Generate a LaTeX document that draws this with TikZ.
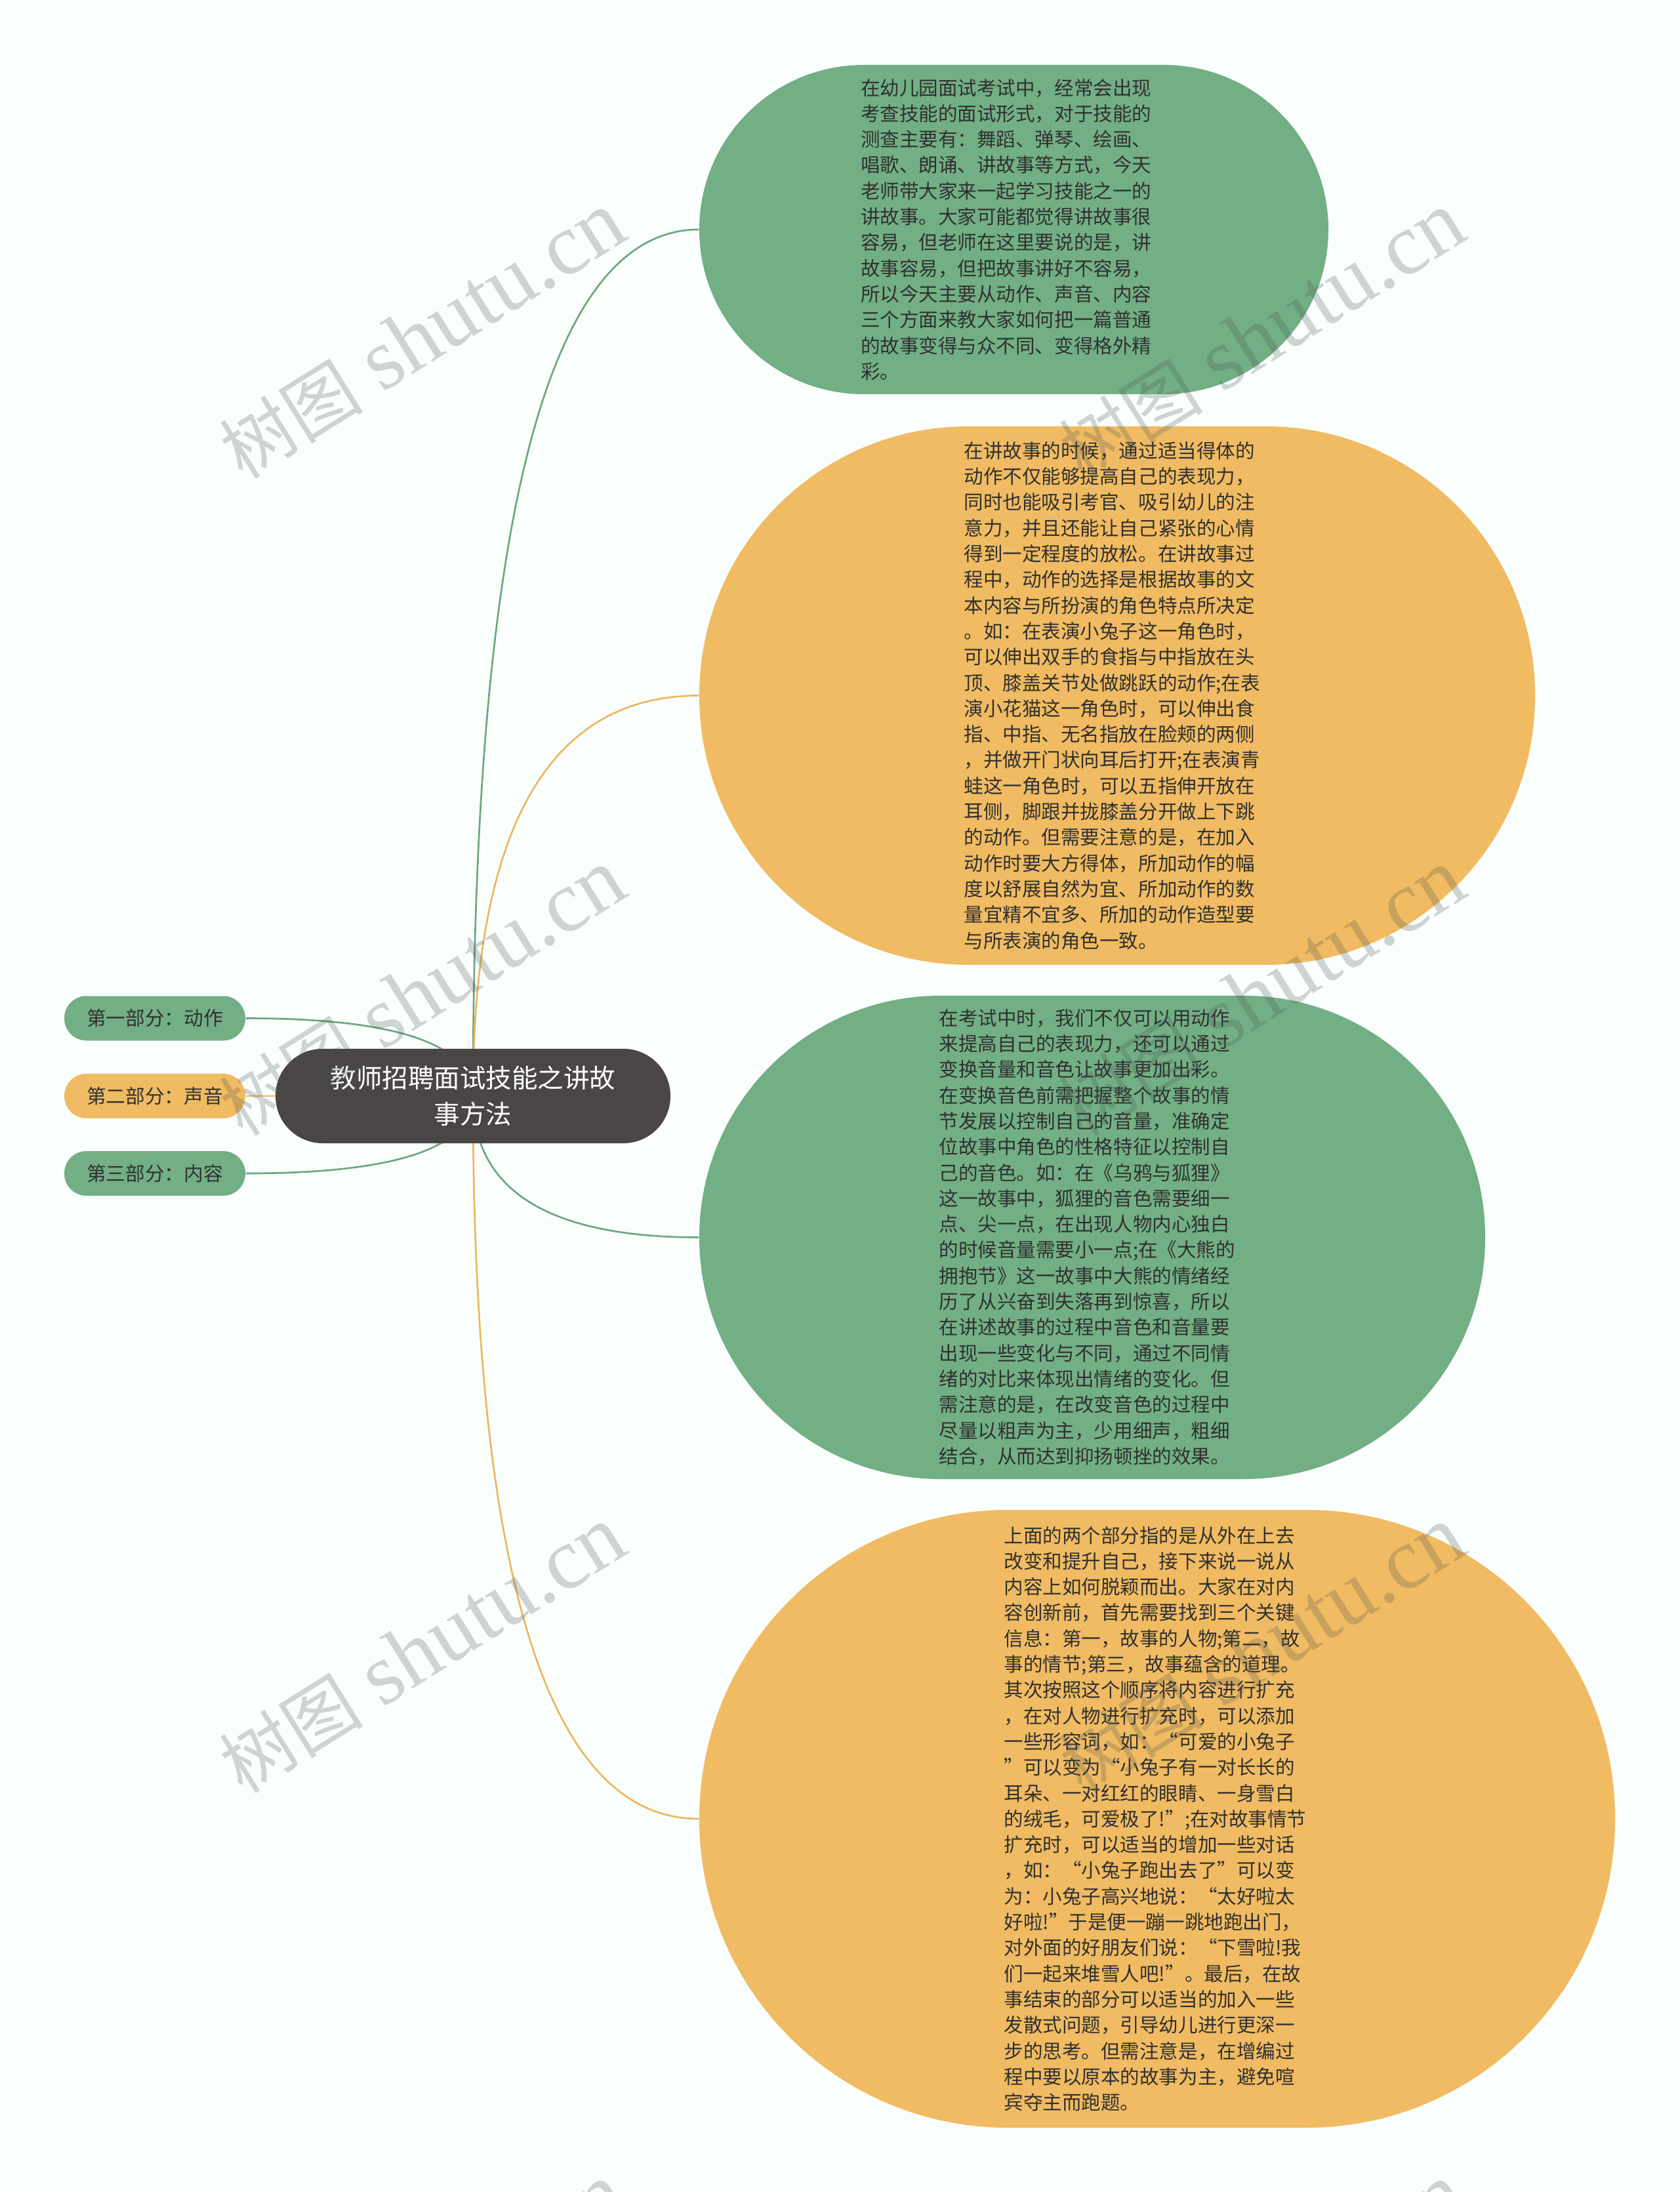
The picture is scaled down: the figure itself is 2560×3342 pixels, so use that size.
\documentclass[tikz,border=0pt]{standalone}
\usepackage{fontspec}
\newfontfamily\cjk{Noto Sans CJK SC}
\newfontfamily\wmserif{Liberation Serif}
\usetikzlibrary{calc}
\pgfdeclarelayer{bg}
\pgfsetlayers{bg,main}
\definecolor{bgcol}{RGB}{250,254,253}
\definecolor{gcol}{RGB}{114,175,132}
\definecolor{ocol}{RGB}{240,187,98}
\definecolor{rcol}{RGB}{75,70,70}
\definecolor{glcol}{RGB}{106,168,125}
\definecolor{olcol}{RGB}{236,183,92}
\definecolor{txtcol}{RGB}{48,48,48}
\definecolor{wmcol}{RGB}{70,80,80}
\newcommand\myqo{\makebox[1em][r]{“}}
\newcommand\myqc{\makebox[1em][l]{”}}
\tikzset{
  bignode/.style={rectangle, inner sep=0pt, text width=140pt, align=left, text=txtcol,
    font={\cjk\fontsize{8.86}{11.79}\selectfont}},
  gfill/.style={fill=gcol},
  ofill/.style={fill=ocol},
  smallnode/.style={rectangle, inner sep=0pt, minimum width=82.8pt, minimum height=20.4pt,
    rounded corners=10.1pt, text=txtcol, font={\cjk\fontsize{8.9}{10}\selectfont}},
  rootnode/.style={rectangle, inner sep=0pt, minimum width=180.6pt, minimum height=43.2pt,
    rounded corners=21.5pt, fill=rcol, text=white, align=center,
    font={\cjk\fontsize{11.85}{16.5}\selectfont}},
  gline/.style={draw=glcol, line width=0.8pt},
  oline/.style={draw=olcol, line width=0.8pt},
  wm/.style={rotate=32, text=wmcol, text opacity=0.24, inner sep=0pt}
}
\begin{document}
\begin{tikzpicture}[x=0.3pt,y=-0.3pt]
\useasboundingbox (0,0) rectangle (2560,3342);

% root
\node[rootnode] (root) at (721,1671) {教师招聘面试技能之讲故\\事方法};

% left nodes
\node[smallnode, gfill] (l1) at (236,1552.5) {第一部分：动作};
\node[smallnode, ofill] (l2) at (236,1671) {第二部分：声音};
\node[smallnode, gfill] (l3) at (236,1789) {第三部分：内容};

% big nodes
\node[bignode, gfill, minimum width=287.7pt, minimum height=150.6pt, rounded corners=75.2pt] (n1) at (1545.5,350) {%
在幼儿园面试考试中，经常会出现\\
考查技能的面试形式，对于技能的\\
测查主要有：舞蹈、弹琴、绘画、\\
唱歌、朗诵、讲故事等方式，今天\\
老师带大家来一起学习技能之一的\\
讲故事。大家可能都觉得讲故事很\\
容易，但老师在这里要说的是，讲\\
故事容易，但把故事讲好不容易，\\
所以今天主要从动作、声音、内容\\
三个方面来教大家如何把一篇普通\\
的故事变得与众不同、变得格外精\\
彩。};

\node[bignode, ofill, minimum width=382.2pt, minimum height=246.3pt, rounded corners=123pt] (n2) at (1703,1060.5) {%
在讲故事的时候，通过适当得体的\\
动作不仅能够提高自己的表现力，\\
同时也能吸引考官、吸引幼儿的注\\
意力，并且还能让自己紧张的心情\\
得到一定程度的放松。在讲故事过\\
程中，动作的选择是根据故事的文\\
本内容与所扮演的角色特点所决定\\
。如：在表演小兔子这一角色时，\\
可以伸出双手的食指与中指放在头\\
顶、膝盖关节处做跳跃的动作;在表\\
演小花猫这一角色时，可以伸出食\\
指、中指、无名指放在脸颊的两侧\\
，并做开门状向耳后打开;在表演青\\
蛙这一角色时，可以五指伸开放在\\
耳侧，脚跟并拢膝盖分开做上下跳\\
的动作。但需要注意的是，在加入\\
动作时要大方得体，所加动作的幅\\
度以舒展自然为宜、所加动作的数\\
量宜精不宜多、所加的动作造型要\\
与所表演的角色一致。};

\node[bignode, gfill, minimum width=359.4pt, minimum height=221.1pt, rounded corners=110.4pt] (n3) at (1665,1886.5) {%
在考试中时，我们不仅可以用动作\\
来提高自己的表现力，还可以通过\\
变换音量和音色让故事更加出彩。\\
在变换音色前需把握整个故事的情\\
节发展以控制自己的音量，准确定\\
位故事中角色的性格特征以控制自\\
己的音色。如：在《乌鸦与狐狸》\\
这一故事中，狐狸的音色需要细一\\
点、尖一点，在出现人物内心独白\\
的时候音量需要小一点;在《大熊的\\
拥抱节》这一故事中大熊的情绪经\\
历了从兴奋到失落再到惊喜，所以\\
在讲述故事的过程中音色和音量要\\
出现一些变化与不同，通过不同情\\
绪的对比来体现出情绪的变化。但\\
需注意的是，在改变音色的过程中\\
尽量以粗声为主，少用细声，粗细\\
结合，从而达到抑扬顿挫的效果。};

\node[bignode, ofill, minimum width=418.8pt, minimum height=282.6pt, rounded corners=141.2pt] (n4) at (1764,2773) {%
上面的两个部分指的是从外在上去\\
改变和提升自己，接下来说一说从\\
内容上如何脱颖而出。大家在对内\\
容创新前，首先需要找到三个关键\\
信息：第一，故事的人物;第二，故\\
事的情节;第三，故事蕴含的道理。\\
其次按照这个顺序将内容进行扩充\\
，在对人物进行扩充时，可以添加\\
一些形容词，如：\myqo 可爱的小兔子\\
\myqc 可以变为\myqo 小兔子有一对长长的\\
耳朵、一对红红的眼睛、一身雪白\\
的绒毛，可爱极了!\myqc;在对故事情节\\
扩充时，可以适当的增加一些对话\\
，如：\myqo 小兔子跑出去了\myqc 可以变\\
为：小兔子高兴地说：\myqo 太好啦太\\
好啦!\myqc 于是便一蹦一跳地跑出门，\\
对外面的好朋友们说：\myqo 下雪啦!我\\
们一起来堆雪人吧!\myqc。最后，在故\\
事结束的部分可以适当的加入一些\\
发散式问题，引导幼儿进行更深一\\
步的思考。但需注意是，在增编过\\
程中要以原本的故事为主，避免喧\\
宾夺主而跑题。};

% connectors (behind nodes)
\begin{pgfonlayer}{bg}
\fill[bgcol] (0,0) rectangle (2560,3342);
\coordinate (k1) at (root.center |- n1.west);
\coordinate (k2) at (root.center |- n2.west);
\coordinate (k3) at (root.center |- n3.west);
\coordinate (k4) at (root.center |- n4.west);
\coordinate (j1) at (root.center |- l1.east);
\coordinate (j3) at (root.center |- l3.east);
\draw[gline] (root.center) .. controls ($(root.center)!0.667!(k1)$) and ($(n1.west)!0.667!(k1)$) .. (n1.west);
\draw[oline] (root.center) .. controls ($(root.center)!0.667!(k2)$) and ($(n2.west)!0.667!(k2)$) .. (n2.west);
\draw[gline] (root.center) .. controls ($(root.center)!0.667!(k3)$) and ($(n3.west)!0.667!(k3)$) .. (n3.west);
\draw[oline] (root.center) .. controls ($(root.center)!0.667!(k4)$) and ($(n4.west)!0.667!(k4)$) .. (n4.west);
\draw[gline] (root.center) .. controls ($(root.center)!0.667!(j1)$) and ($(l1.east)!0.667!(j1)$) .. (l1.east);
\draw[oline] (root.center) -- (l2.east);
\draw[gline] (root.center) .. controls ($(root.center)!0.667!(j3)$) and ($(l3.east)!0.667!(j3)$) .. (l3.east);
\end{pgfonlayer}

% watermarks
\begin{scope}
\clip (0,0) rectangle (2560,3342);
\foreach \wx/\wy [count=\i] in {644/512, 1924/512, 644/1514, 1924/1514, 644/2516, 1924/2516, 644/3518, 1924/3518}{
  \node[wm] (wm\i) at (\wx,\wy) {{\cjk\fontsize{33}{36}\selectfont 树图}\hspace{9pt}{\wmserif\fontsize{40}{42}\selectfont shutu.cn}};
}
\end{scope}
\end{tikzpicture}
\end{document}
